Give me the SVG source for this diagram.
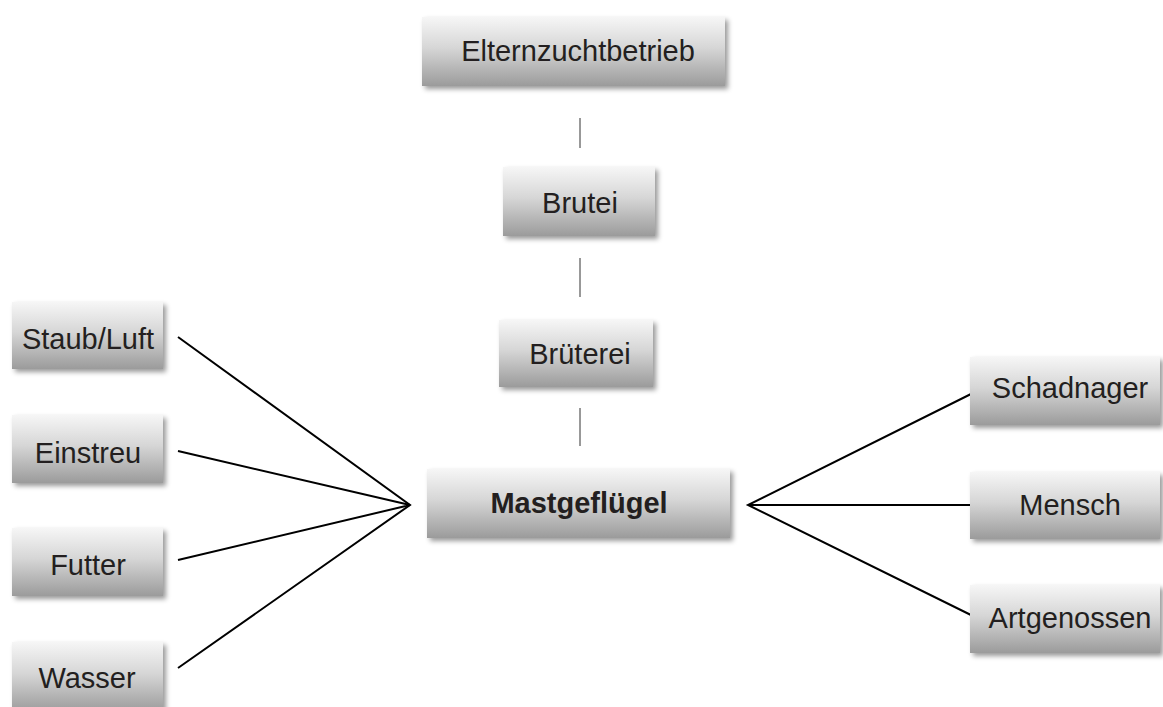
<svg xmlns="http://www.w3.org/2000/svg" width="1163" height="707" viewBox="0 0 1163 707">
<defs>
<linearGradient id="g" x1="0" y1="0" x2="0" y2="1">
<stop offset="0" stop-color="#f6f6f6"/>
<stop offset="0.45" stop-color="#d6d6d6"/>
<stop offset="1" stop-color="#9b9b9b"/>
</linearGradient>
<filter id="sh" x="-10%" y="-20%" width="125%" height="150%">
<feDropShadow dx="3" dy="3" stdDeviation="2.5" flood-color="#000" flood-opacity="0.4"/>
</filter>
</defs>
<style>
.box{fill:url(#g);filter:url(#sh);}
.t{font-family:"Liberation Sans",Arial,sans-serif;font-size:29px;fill:#231f20;text-anchor:middle;}
.b{font-weight:bold;}
.c{stroke:#000;stroke-width:2;fill:none;}
.v{stroke:#333;stroke-width:1;}
</style>
<rect width="1163" height="707" fill="#fff"/>
<g id="connectors">
<line class="v" x1="580" y1="118" x2="580" y2="148"/>
<line class="v" x1="580" y1="258" x2="580" y2="297"/>
<line class="v" x1="580" y1="408" x2="580" y2="446"/>
<polyline class="c" points="178,337 410,505 178,668"/>
<polyline class="c" points="178,451 410,505 178,560"/>
<polyline class="c" points="977,391 748,505 977,618"/>
<line class="c" x1="748" y1="505" x2="970" y2="505"/>
</g>
<g id="n-eltern"><rect class="box" x="422" y="17" width="303" height="69"/><text class="t" x="578" y="61">Elternzuchtbetrieb</text></g>
<g id="n-brutei"><rect class="box" x="503" y="167" width="152" height="69"/><text class="t" x="580" y="213">Brutei</text></g>
<g id="n-brueterei"><rect class="box" x="499" y="320" width="154" height="67"/><text class="t" x="580" y="364">Brüterei</text></g>
<g id="n-mast"><rect class="box" x="427" y="469" width="303" height="69"/><text class="t b" x="579" y="513">Mastgeflügel</text></g>
<g id="n-staub"><rect class="box" x="12" y="302" width="151" height="67"/><text class="t" x="88" y="349">Staub/Luft</text></g>
<g id="n-einstreu"><rect class="box" x="12" y="415" width="151" height="68"/><text class="t" x="88" y="463">Einstreu</text></g>
<g id="n-futter"><rect class="box" x="12" y="528" width="151" height="68"/><text class="t" x="88" y="575">Futter</text></g>
<g id="n-wasser"><rect class="box" x="12" y="642" width="151" height="70"/><text class="t" x="87" y="688">Wasser</text></g>
<g id="n-schad"><rect class="box" x="970" y="357" width="190" height="68"/><text class="t" x="1070" y="398">Schadnager</text></g>
<g id="n-mensch"><rect class="box" x="970" y="472" width="190" height="67"/><text class="t" x="1070" y="515">Mensch</text></g>
<g id="n-artg"><rect class="box" x="970" y="585" width="190" height="68"/><text class="t" x="1070" y="628">Artgenossen</text></g>
</svg>
